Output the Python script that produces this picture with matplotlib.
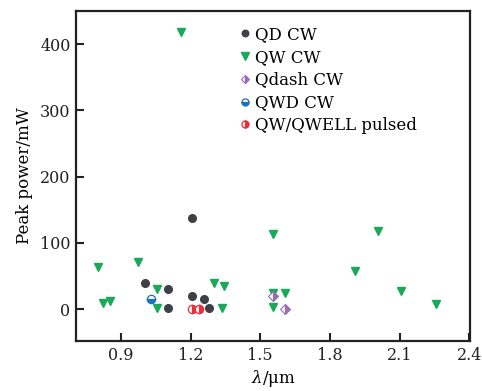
import matplotlib
matplotlib.use('Agg')
import matplotlib.pyplot as plt

# data (wavelength in um, peak power in mW)
qd_x = [1.005, 1.105, 1.105, 1.206, 1.206, 1.256, 1.28]
qd_y = [39, 31, 2, 137, 20, 16, 2.5]

qw_x = [0.803, 0.825, 0.854, 0.973, 1.055, 1.055, 1.16, 1.303, 1.342, 1.335,
        1.555, 1.555, 1.555, 1.605, 1.906, 2.006, 2.107, 2.258]
qw_y = [64, 9, 12.5, 71, 31, 2, 418, 40, 35, 2,
        113, 25, 3.5, 25, 57, 118, 28, 7.5]

qdash_x = [1.555, 1.605]
qdash_y = [20, 0]

qwd_x = [1.031]
qwd_y = [16]

pulsed_x = [1.206, 1.235]
pulsed_y = [1, 0]

labels = ['QD CW', 'QW CW', 'Qdash CW', 'QWD CW', 'QW/QWELL pulsed']

x_ticks = [0.9, 1.2, 1.5, 1.8, 2.1, 2.4]
y_ticks = [0, 100, 200, 300, 400]

plt.rcParams['font.family'] = ['DejaVu Serif']
plt.rcParams['mathtext.fontset'] = 'dejavuserif'

fig = plt.figure(figsize=(4.82, 3.91), dpi=100)
ax = fig.add_axes([76 / 482, 50 / 391, 394 / 482, 330 / 391])

ax.plot(qd_x, qd_y, 'o', color='#3d4045', markersize=5.5, label=labels[0])
ax.plot(qw_x, qw_y, 'v', color='#1aa85a', markersize=6, label=labels[1])
ax.plot(qdash_x, qdash_y, 'D', color='#9a6cb8', markersize=5, fillstyle='right',
        markerfacecoloralt='white', markeredgewidth=0.8, label=labels[2])
ax.plot(qwd_x, qwd_y, 'o', color='#1f6fc0', markersize=6, fillstyle='bottom',
        markerfacecoloralt='white', markeredgewidth=0.9, label=labels[3])
ax.plot(pulsed_x, pulsed_y, 'o', color='#e8303a', markersize=6, fillstyle='right',
        markerfacecoloralt='white', markeredgewidth=0.9, label=labels[4])

ax.set_xlim(0.707, 2.403)
ax.set_ylim(-48, 450)
ax.set_xticks(x_ticks)
ax.set_xticklabels([str(v) for v in x_ticks])
ax.set_yticks(y_ticks)
ax.tick_params(direction='in', length=6, width=1.5, labelsize=11.5, pad=4,
               colors='#222222')
for sp in ax.spines.values():
    sp.set_linewidth(1.6)
    sp.set_color('#222222')

ax.set_xlabel(r'$\lambda$/$\mathrm{\mu}$m', fontsize=12, labelpad=3)
ax.set_ylabel('Peak power/mW', fontsize=12, labelpad=5)

ax.legend(loc='upper left', bbox_to_anchor=(0.39, 0.985), frameon=False,
          fontsize=12, handlelength=0.6, handletextpad=0.3, labelspacing=0.35,
          borderaxespad=0.2, markerscale=0.85)

fig.savefig('out.png', dpi=100)
